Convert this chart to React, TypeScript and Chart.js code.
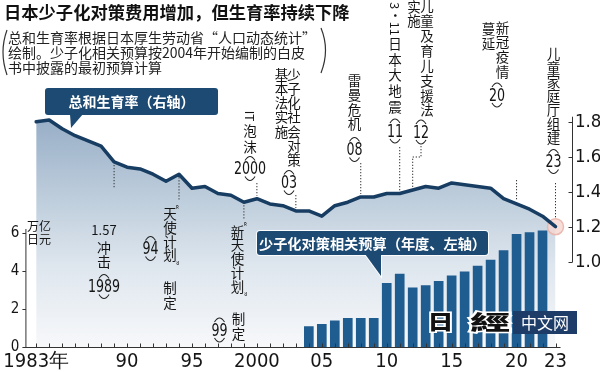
import React, { useEffect, useRef } from 'react';
import { Chart, registerables } from 'chart.js';

Chart.register(...registerables);

// ---------------- data ----------------
const years = [
  1983, 1984, 1985, 1986, 1987, 1988, 1989, 1990, 1991, 1992, 1993, 1994, 1995, 1996,
  1997, 1998, 1999, 2000, 2001, 2002, 2003, 2004, 2005, 2006, 2007, 2008, 2009, 2010,
  2011, 2012, 2013, 2014, 2015, 2016, 2017, 2018, 2019, 2020, 2021, 2022, 2023,
];
const fertilityRate = [
  1.80, 1.81, 1.76, 1.72, 1.69, 1.66, 1.57, 1.54, 1.53, 1.50, 1.46, 1.50, 1.42, 1.43,
  1.39, 1.38, 1.34, 1.36, 1.33, 1.32, 1.29, 1.29, 1.26, 1.32, 1.34, 1.37, 1.37, 1.39,
  1.39, 1.41, 1.43, 1.42, 1.45, 1.44, 1.43, 1.42, 1.36, 1.33, 1.30, 1.26, 1.20,
];
const budgetYears = [
  2004, 2005, 2006, 2007, 2008, 2009, 2010, 2011, 2012, 2013, 2014, 2015, 2016, 2017,
  2018, 2019, 2020, 2021, 2022,
];
const budgetTrillionYen = [
  1.07, 1.19, 1.38, 1.51, 1.51, 1.51, 3.35, 3.84, 3.12, 3.23, 3.46, 3.74, 3.96, 4.26,
  4.58, 5.07, 5.93, 6.02, 6.11,
];
const xTickValues = [1983, 1990, 1995, 2000, 2005, 2010, 2015, 2020, 2023];
const xTickLabels = ['1983年', '90', '95', '2000', '05', '10', '15', '20', '23'];
const leftTickValues = [0, 2, 4, 6];
const rightTickValues = [1.0, 1.2, 1.4, 1.6, 1.8];

const titleText = '日本少子化对策费用增加，但生育率持续下降';
const noteLines = [
  '总和生育率根据日本厚生劳动省“人口动态统计”',
  '绘制。少子化相关预算按2004年开始编制的白皮',
  '书中披露的最初预算计算',
];
const lineLabel = '总和生育率（右轴）';
const barLabel = '少子化对策相关预算（年度、左轴）';
const leftUnit = ['万亿', '日元'];

// ---------------- styles ----------------
const CJK = '"Noto Sans CJK SC", "Noto Sans", sans-serif';
const NARROW = '"Liberation Sans Narrow", "DejaVu Sans Condensed", "Liberation Sans", sans-serif';
const NAVY = '#1c4a72';
const BAR = '#1f5c8f';
const LINE = '#183d62';
const INK = '#151515';

const rateOf = (y: number) => fertilityRate[years.indexOf(y)];

function vcol(c: CanvasRenderingContext2D, text: string, x: number, y0: number, pitch: number, size = 13.5) {
  c.font = `${size}px ${CJK}`;
  c.textAlign = 'center';
  c.textBaseline = 'middle';
  Array.from(text).forEach((ch, i) => c.fillText(ch, x, y0 + i * pitch));
}
function rot(c: CanvasRenderingContext2D, text: string, x: number, y: number, size = 13) {
  c.save();
  c.translate(x, y);
  c.rotate(Math.PI / 2);
  c.font = `${size}px ${CJK}`;
  c.textAlign = 'center';
  c.textBaseline = 'middle';
  c.fillText(text, 0, 0);
  c.restore();
}
function pnum(c: CanvasRenderingContext2D, num: string, x: number, y: number) {
  c.save();
  c.translate(x, y);
  c.scale(0.78, 1);
  c.font = `18px ${NARROW}`;
  c.textAlign = 'center';
  c.textBaseline = 'middle';
  c.fillText(num, 0, 1);
  c.restore();
  c.save();
  c.lineWidth = 1.1;
  c.strokeStyle = '#222';
  c.beginPath();
  c.moveTo(x - 5, y - 8);
  c.quadraticCurveTo(x, y - 16, x + 5, y - 8);
  c.stroke();
  c.beginPath();
  c.moveTo(x - 5, y + 8);
  c.quadraticCurveTo(x, y + 16, x + 5, y + 8);
  c.stroke();
  c.restore();
}
function quote(c: CanvasRenderingContext2D, q: string, x: number, y: number) {
  c.save();
  c.translate(x, y);
  c.rotate(Math.PI / 2);
  c.font = `10px ${CJK}`;
  c.textAlign = 'center';
  c.textBaseline = 'middle';
  c.fillText(q, 0, 0);
  c.restore();
}
function dotted(c: CanvasRenderingContext2D, pts: number[][]) {
  c.save();
  c.strokeStyle = '#333';
  c.lineWidth = 1;
  c.setLineDash([1.3, 1.7]);
  c.beginPath();
  pts.forEach((p, i) => (i === 0 ? c.moveTo(p[0], p[1]) : c.lineTo(p[0], p[1])));
  c.stroke();
  c.restore();
}
function callout(
  c: CanvasRenderingContext2D,
  x: number, y: number, w: number, h: number,
  tail: number[][], text: string, size: number,
) {
  c.save();
  const rect = () => { c.beginPath(); c.roundRect(x, y, w, h, 3); };
  const tl = () => { c.beginPath(); tail.forEach((p, i) => (i === 0 ? c.moveTo(p[0], p[1]) : c.lineTo(p[0], p[1]))); c.closePath(); };
  c.strokeStyle = 'rgba(255,255,255,0.9)';
  c.lineWidth = 2;
  rect(); c.stroke();
  tl(); c.stroke();
  c.fillStyle = NAVY;
  rect(); c.fill();
  tl(); c.fill();
  c.fillStyle = '#fff';
  c.font = `bold ${size}px ${CJK}`;
  c.textAlign = 'center';
  c.textBaseline = 'middle';
  c.fillText(text, x + w / 2, y + h / 2 + 0.5);
  c.restore();
}

const whiteBg = {
  id: 'whiteBg',
  beforeDraw(chart: any) {
    const c = chart.ctx;
    c.save();
    c.fillStyle = '#fff';
    c.fillRect(0, 0, chart.width, chart.height);
    c.restore();
  },
};

const decor = {
  id: 'decor',
  afterDatasetsDraw(chart: any) {
    const c: CanvasRenderingContext2D = chart.ctx;
    const xs = chart.scales.x;
    const ys = chart.scales.y;
    const yr = chart.scales.y1;
    const X = (v: number) => xs.getPixelForValue(v);
    const T = (v: number) => yr.getPixelForValue(rateOf(v));
    const area = chart.chartArea;

    // ---- axes ----
    c.save();
    c.strokeStyle = '#333';
    c.lineWidth = 1;
    const yBase = ys.getPixelForValue(0);
    c.beginPath();
    c.moveTo(area.left, yBase + 0.5);
    c.lineTo(X(2023) + 5, yBase + 0.5);
    years.forEach((v) => {
      c.moveTo(Math.round(X(v)) + 0.5, yBase);
      c.lineTo(Math.round(X(v)) + 0.5, yBase - 3.5);
    });
    // left axis
    c.moveTo(area.left + 0.5, yBase + 1);
    c.lineTo(area.left + 0.5, ys.getPixelForValue(6) - 4);
    leftTickValues.forEach((v) => {
      const p = Math.round(ys.getPixelForValue(v)) + 0.5;
      c.moveTo(area.left - 3, p);
      c.lineTo(area.left + 0.5, p);
    });
    // right axis
    const rx = area.right + 0.5;
    c.moveTo(rx, yr.getPixelForValue(1.0) + 0.5);
    c.lineTo(rx, yr.getPixelForValue(1.8) - 5);
    rightTickValues.forEach((v) => {
      const p = Math.round(yr.getPixelForValue(v)) + 0.5;
      c.moveTo(rx - 4, p);
      c.lineTo(rx, p);
    });
    c.stroke();
    c.restore();

    // ---- callouts ----
    callout(c, 45, 88, 173, 27, [[70, 114], [83, 114], [71, 128]], lineLabel, 14);
    callout(c, 257, 231, 231, 24, [[365, 254], [381, 254], [381, 276]], barLabel, 14.2);

    c.save();
    c.fillStyle = INK;
    c.strokeStyle = '#222';

    // unit
    c.font = `12px ${CJK}`;
    c.textAlign = 'left';
    c.textBaseline = 'middle';
    c.fillText(leftUnit[0], 27, 226);
    c.fillText(leftUnit[1], 27, 239);

    // 1989
    dotted(c, [[X(1989), T(1989) + 3], [X(1989), 188]]);
    c.font = `13px ${CJK}`;
    c.textAlign = 'center';
    c.fillText('1.57', 104, 230);
    vcol(c, '冲击', 104, 248, 13.5, 14);
    pnum(c, '1989', 104, 286.5);

    // 1994
    dotted(c, [[X(1994), T(1994) + 3], [X(1994), 200]]);
    quote(c, '“', 174, 204);
    vcol(c, '天使计划', 170, 214, 13.7);
    quote(c, '”', 174, 266);
    vcol(c, '制定', 170, 287.5, 15);
    pnum(c, '94', 150.5, 248.5);

    // 1999
    dotted(c, [[X(1999), T(1999) + 3], [X(1999), 219]]);
    quote(c, '“', 242, 221);
    vcol(c, '新天使计划', 237.5, 231.5, 13.8);
    quote(c, '”', 242, 297);
    vcol(c, '制定', 238.5, 319, 14.5);
    pnum(c, '99', 219.5, 330);

    // 2000
    rot(c, 'IT', 250, 116, 12);
    vcol(c, '泡沫', 250, 130.5, 16);
    pnum(c, '2000', 250, 168.5);
    dotted(c, [[X(2000), 183], [X(2000), T(2000) - 3]]);

    // 2003
    vcol(c, '少子化社会对策', 294, 75, 14.1);
    vcol(c, '基本法实施', 281.5, 75, 14.1);
    pnum(c, '03', 289, 182.5);
    dotted(c, [[X(2003), 195], [X(2003), T(2003) - 3]]);

    // 2008
    vcol(c, '雷曼危机', 354.5, 81, 14.2);
    pnum(c, '08', 354.5, 149.5);
    dotted(c, [[X(2008), 163], [X(2008), T(2008) - 3]]);

    // 2011
    rot(c, '3·11', 395, 19, 12.5);
    vcol(c, '日本大地震', 395, 44, 15.6);
    pnum(c, '11', 395, 131);
    dotted(c, [[X(2011), 147], [X(2011), T(2011) - 3]]);

    // 2012
    vcol(c, '儿童及育儿支援法', 427, 6, 14.9);
    vcol(c, '实施', 414, 7, 14);
    pnum(c, '12', 421, 132);
    dotted(c, [[421, 146], [421, 157], [X(2012), 157], [X(2012), T(2012) - 3]]);

    // 2020
    vcol(c, '新冠疫情', 502.5, 27.5, 14.8);
    vcol(c, '蔓延', 488.5, 29, 14.5);
    pnum(c, '20', 497, 95);
    dotted(c, [[X(2020), 180], [X(2020), T(2020) - 3]]);

    // 2023
    vcol(c, '儿童家庭厅组建', 553.5, 54, 13.9);
    pnum(c, '23', 553.5, 161.5);
    dotted(c, [[X(2023), 183], [X(2023), T(2023) - 8]]);
    c.restore();

    // ---- title & note ----
    c.save();
    c.fillStyle = '#111';
    c.textAlign = 'left';
    c.textBaseline = 'middle';
    c.font = `bold 17.3px ${CJK}`;
    c.fillText(titleText, 4, 12);
    c.fillStyle = '#222';
    c.font = `14px ${CJK}`;
    noteLines.forEach((t, i) => c.fillText(t, 8, 37.5 + i * 15));
    c.strokeStyle = '#333';
    c.lineWidth = 1.2;
    c.beginPath();
    c.moveTo(7, 30);
    c.quadraticCurveTo(-1, 52, 7, 75);
    c.moveTo(321, 28);
    c.quadraticCurveTo(330, 50, 321, 73);
    c.stroke();
    c.restore();

    // ---- watermark ----
    c.save();
    c.fillStyle = '#1d3c68';
    c.fillRect(513, 311, 64, 23);
    c.fillStyle = '#fff';
    c.font = `16px ${CJK}`;
    c.textAlign = 'center';
    c.textBaseline = 'middle';
    c.fillText('中文网', 545, 322.5);
    c.lineWidth = 3;
    c.strokeStyle = '#fff';
    c.fillStyle = '#111';
    c.font = `900 20px ${CJK}`;
    c.save();
    c.translate(440.5, 322);
    c.scale(1.3, 1);
    c.strokeText('日', 0, 0);
    c.fillText('日', 0, 0);
    c.restore();
    c.save();
    c.translate(490, 322);
    c.scale(2, 1);
    c.strokeText('經', 0, 0);
    c.fillText('經', 0, 0);
    c.restore();
    c.restore();
  },
};

export default function App() {
  const ref = useRef<HTMLCanvasElement>(null);
  useEffect(() => {
    const canvas = ref.current;
    if (!canvas) return;
    const chart = new Chart(canvas, {
      type: 'bar',
      data: {
        datasets: [
          {
            type: 'line',
            label: 'end',
            data: [{ x: years[years.length - 1], y: fertilityRate[fertilityRate.length - 1] }],
            yAxisID: 'y1',
            showLine: false,
            pointRadius: 8,
            pointBackgroundColor: 'rgba(246,214,208,0.8)',
            pointBorderColor: 'rgba(232,180,170,0.9)',
            pointBorderWidth: 1.5,
            order: 3,
          },
          {
            type: 'line',
            label: lineLabel,
            data: years.map((x, i) => ({ x, y: fertilityRate[i] })),
            yAxisID: 'y1',
            borderColor: LINE,
            borderWidth: 3.5,
            borderJoinStyle: 'round',
            borderCapStyle: 'round',
            pointRadius: 0,
            tension: 0,
            fill: 'start',
            backgroundColor: (ctx: any) => {
              const ch = ctx.chart;
              const area = ch.chartArea;
              if (!area) return 'rgba(180,198,216,1)';
              const g = ch.ctx.createLinearGradient(0, 115, 0, area.bottom);
              g.addColorStop(0, 'rgb(150,173,198)');
              g.addColorStop(0.38, 'rgb(192,207,221)');
              g.addColorStop(0.65, 'rgb(222,230,238)');
              g.addColorStop(1, 'rgb(247,248,250)');
              return g;
            },
            order: 2,
          },
          {
            type: 'bar',
            label: barLabel,
            data: budgetYears.map((x, i) => ({ x, y: budgetTrillionYen[i] })),
            yAxisID: 'y',
            backgroundColor: BAR,
            barThickness: 9,
            order: 1,
          },
        ],
      },
      options: {
        animation: false,
        responsive: false,
        maintainAspectRatio: false,
        layout: { padding: { top: 60, left: 0, right: 0, bottom: 0 } },
        plugins: {
          legend: { display: false },
          tooltip: { enabled: false },
          filler: { drawTime: 'beforeDatasetsDraw' },
        },
        scales: {
          x: {
            type: 'linear',
            offset: false,
            min: 1982.17,
            max: 2024.27,
            afterFit: (s: any) => { s.height = 25; },
            afterBuildTicks: (s: any) => { s.ticks = xTickValues.map((value) => ({ value })); },
            ticks: {
              autoSkip: false,
              maxRotation: 0,
              padding: 3,
              color: INK,
              font: { family: NARROW, size: 20 },
              callback: (v: any) => xTickLabels[xTickValues.indexOf(Number(v))],
            },
            grid: { display: false, drawTicks: false },
            border: { display: false },
          },
          y: {
            position: 'left',
            min: 0,
            max: 15.105,
            afterFit: (s: any) => { s.width = 15; },
            afterBuildTicks: (s: any) => { s.ticks = leftTickValues.map((value) => ({ value })); },
            ticks: {
              padding: 6,
              color: INK,
              font: { family: NARROW, size: 15 },
              callback: (v: any) => String(v),
            },
            grid: { display: false, drawTicks: false },
            border: { display: false },
          },
          y1: {
            position: 'right',
            min: 0.5126,
            max: 2.1526,
            afterFit: (s: any) => { s.width = 28; },
            afterBuildTicks: (s: any) => { s.ticks = rightTickValues.map((value) => ({ value })); },
            ticks: {
              padding: 3,
              color: INK,
              font: { family: NARROW, size: 18.5 },
              callback: (v: any) => Number(v).toFixed(1),
            },
            grid: { display: false, drawTicks: false },
            border: { display: false },
          },
        },
      },
      plugins: [whiteBg, decor],
    } as any);
    return () => chart.destroy();
  }, []);
  return (
    <div style={{ position: 'absolute', left: 0, top: 0, width: 600, height: 372 }}>
      <canvas ref={ref} width={600} height={372} style={{ display: 'block', width: 600, height: 372 }} />
    </div>
  );
}
